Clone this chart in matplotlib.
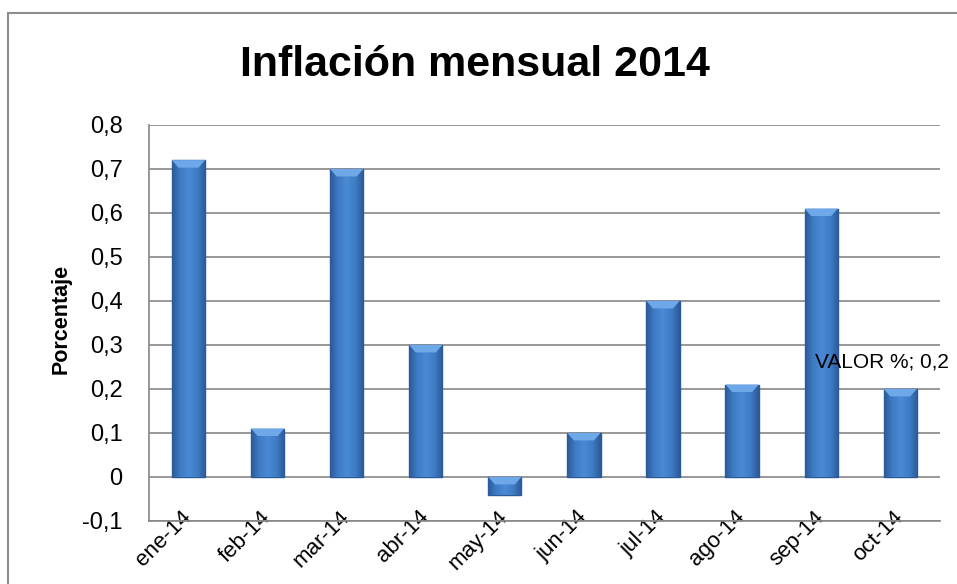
import numpy as np
import matplotlib.pyplot as plt
from matplotlib.patches import Rectangle, Polygon
from matplotlib.colors import LinearSegmentedColormap
from matplotlib.ticker import FuncFormatter

plt.rcParams['font.family'] = ['Liberation Sans', 'DejaVu Sans']

months = ['ene-14', 'feb-14', 'mar-14', 'abr-14', 'may-14',
          'jun-14', 'jul-14', 'ago-14', 'sep-14', 'oct-14']
valor = [0.72, 0.11, 0.70, 0.30, -0.04, 0.10, 0.40, 0.21, 0.61, 0.20]
y_ticks = [-0.1, 0, 0.1, 0.2, 0.3, 0.4, 0.5, 0.6, 0.7, 0.8]

fig = plt.figure(figsize=(9.57, 5.84), dpi=100)
ax = fig.add_axes([0.1557, 0.108, 0.8263, 0.678])

# outer chart frame
fig.patches.append(Rectangle((8 / 957, -0.05), 1.0, 1 - 13 / 584 + 0.05,
                             transform=fig.transFigure, fill=False,
                             edgecolor='#8c8c8c', linewidth=1.5))

x = np.arange(len(months))
w = 0.42
bars = ax.bar(x, valor, width=w, color='#3a71b8', edgecolor='#2b5a96',
              linewidth=1.0, zorder=3)

# horizontal shading inside each bar (darker sides, lighter middle)
shade = LinearSegmentedColormap.from_list(
    'shade', ['#2c5a98', '#3f7cc6', '#4a89d3', '#3f7cc6', '#2c5a98'])
grad = np.linspace(0, 1, 64).reshape(1, -1)
bevel = 0.017
for b in bars:
    x0, x1 = b.get_x(), b.get_x() + b.get_width()
    y0, y1 = sorted([b.get_y(), b.get_y() + b.get_height()])
    im = ax.imshow(grad, cmap=shade, aspect='auto', zorder=3.5,
                   extent=(x0, x1, y0, y1))
    im.set_clip_path(b)
    # light bevel on the top face, like the excel 3d style
    inset = (x1 - x0) * 0.2
    ax.add_patch(Polygon([(x0, y1), (x1, y1), (x1 - inset, y1 - bevel),
                          (x0 + inset, y1 - bevel)], closed=True,
                         facecolor='#6fa8e8', edgecolor='none', zorder=3.6))

ax.set_xlim(-0.5, len(months) - 0.5)
ax.set_ylim(-0.1, 0.8)
ax.set_yticks(y_ticks)
ax.yaxis.set_major_formatter(FuncFormatter(
    lambda v, p: '0' if abs(v) < 1e-9 else f'{v:.1f}'.replace('.', ',')))
ax.grid(axis='y', color='#868686', linewidth=1.2, zorder=0)
ax.set_axisbelow(True)

ax.set_xticks(x)
ax.set_xticklabels(months, rotation=45, ha='right', va='center',
                   rotation_mode='anchor', fontsize=16)
ax.tick_params(axis='x', length=0, pad=-5)
ax.tick_params(axis='y', length=0, labelsize=17, pad=19)

for s in ['top', 'right']:
    ax.spines[s].set_visible(False)
for s in ['left', 'bottom']:
    ax.spines[s].set_color('#868686')
    ax.spines[s].set_linewidth(1.2)

ax.set_ylabel('Porcentaje', fontsize=15.5, fontweight='bold')
ax.yaxis.set_label_coords(-0.098, 0.51)
fig.text(0.496, 0.889, 'Inflación mensual 2014', ha='center', va='center',
         fontsize=31, fontweight='bold')

ax.text(7.92, 0.262, 'VALOR %; 0,2', fontsize=15, ha='left', va='center',
        clip_on=False, zorder=4)

fig.savefig('out.png', dpi=100)
